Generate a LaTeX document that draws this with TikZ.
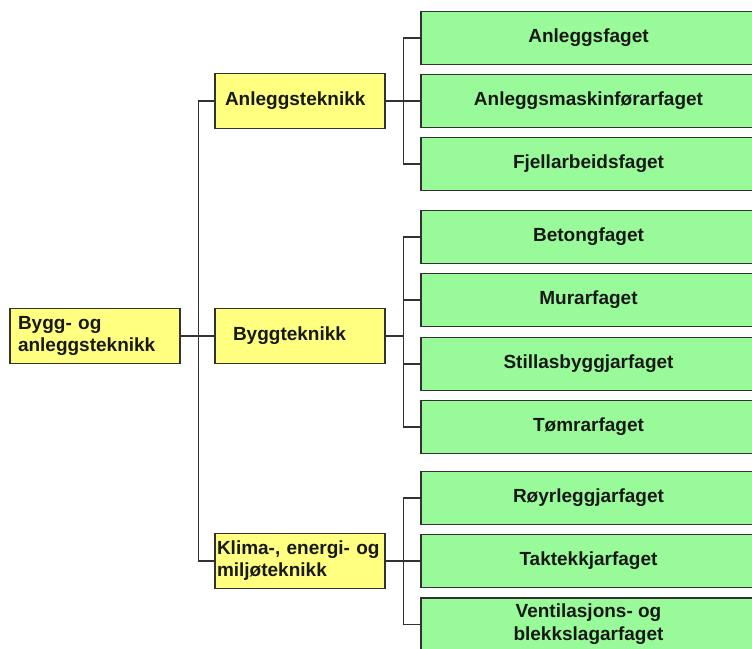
\documentclass[tikz,border=0pt]{standalone}
\usepackage{fontspec}
\setmainfont{Liberation Sans}
\usepackage{tikz}

\definecolor{yellowbox}{RGB}{255,255,128}
\definecolor{greenbox}{RGB}{153,250,153}
\definecolor{boxline}{RGB}{50,50,50}

\begin{document}
\begin{tikzpicture}[x=1pt, y=-1pt,
            yellow node/.style={draw=boxline, fill=yellowbox, line width=1.3pt, text=black!90, text width=166pt, inner xsep=2pt, inner ysep=0pt, align=left, minimum height=55pt, font=\bfseries\fontsize{19}{22}\selectfont},
            green node/.style={draw=boxline, fill=greenbox, line width=1.3pt, text=black!90, minimum width=335pt, minimum height=53pt, inner ysep=0pt, align=center, font=\bfseries\fontsize{19}{23}\selectfont},
            link/.style={draw=boxline, line width=1.3pt},
            ]
            \useasboundingbox (0,0) rectangle (752,648);
            \clip (0,0) rectangle (752,648);
            \fill[white] (0,0) rectangle (752,648);

            \node[yellow node, text width=154pt, inner xsep=8pt] (0) at (95,336) {Bygg- og\\anleggsteknikk};
            \node[yellow node, text width=150pt, inner xsep=10pt] (1) at (300,101) {Anleggsteknikk};
            \node[yellow node, text width=134pt, inner xsep=18pt] (2) at (300,336) {Byggteknikk};
            \node[yellow node] (3) at (300,561) {Klima-, energi- og\\miljøteknikk};

            \node[green node] (11) at (588.5,38) {Anleggsfaget};
            \node[green node] (12) at (588.5,101) {Anleggsmaskinførarfaget};
            \node[green node] (13) at (588.5,164) {Fjellarbeidsfaget};
            \node[green node] (21) at (588.5,237) {Betongfaget};
            \node[green node] (22) at (588.5,300) {Murarfaget};
            \node[green node] (23) at (588.5,364) {Stillasbyggjarfaget};
            \node[green node] (24) at (588.5,427) {Tømrarfaget};
            \node[green node] (31) at (588.5,498) {Røyrleggjarfaget};
            \node[green node] (32) at (588.5,561) {Taktekkjarfaget};
            \node[green node] (33) at (588.5,624.5) {Ventilasjons- og\\blekkslagarfaget};

            \draw[link] (0.east) -- ++(18,0) |- (1.west);
            \draw[link] (0.east) -- (2.west);
            \draw[link] (0.east) -- ++(18,0) |- (3.west);

            \draw[link] (1.east) -- ++(18,0) |- (11.west);
            \draw[link] (1.east) -- (12.west);
            \draw[link] (1.east) -- ++(18,0) |- (13.west);

            \draw[link] (2.east) -- ++(18,0) |- (21.west);
            \draw[link] (2.east) -- ++(18,0) |- (22.west);
            \draw[link] (2.east) -- ++(18,0) |- (23.west);
            \draw[link] (2.east) -- ++(18,0) |- (24.west);

            \draw[link] (3.east) -- ++(18,0) |- (31.west);
            \draw[link] (3.east) -- (32.west);
            \draw[link] (3.east) -- ++(18,0) |- (33.west);
        \end{tikzpicture}
\end{document}
